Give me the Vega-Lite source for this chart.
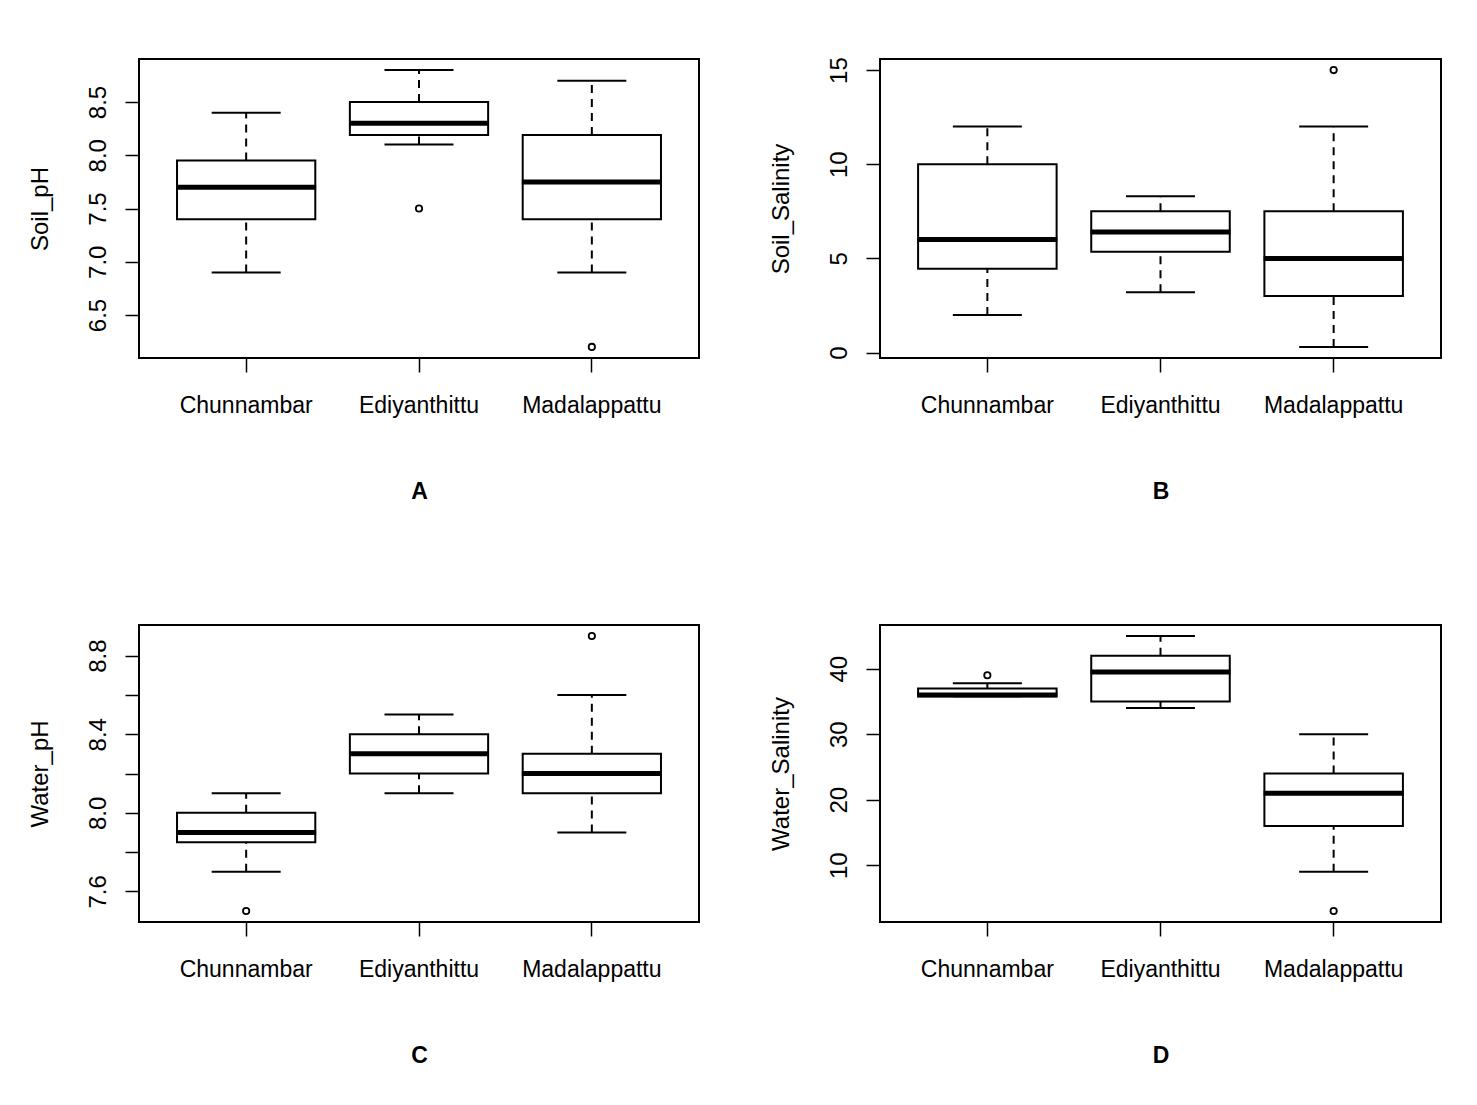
{
  "$schema": "https://vega.github.io/schema/vega-lite/v6.json",
  "background": "white",
  "padding": {"left": 26, "top": 55, "right": 5, "bottom": 5},
  "datasets": {
    "boxes": [
      {"panel": "A", "site": "Chunnambar", "lower": 6.9, "q1": 7.4, "median": 7.7, "q3": 7.95, "upper": 8.4},
      {"panel": "A", "site": "Ediyanthittu", "lower": 8.1, "q1": 8.19, "median": 8.3, "q3": 8.5, "upper": 8.8},
      {"panel": "A", "site": "Madalappattu", "lower": 6.9, "q1": 7.4, "median": 7.75, "q3": 8.19, "upper": 8.7},
      {"panel": "B", "site": "Chunnambar", "lower": 2.0, "q1": 4.45, "median": 6.0, "q3": 10.0, "upper": 12.0},
      {"panel": "B", "site": "Ediyanthittu", "lower": 3.2, "q1": 5.35, "median": 6.4, "q3": 7.5, "upper": 8.3},
      {"panel": "B", "site": "Madalappattu", "lower": 0.3, "q1": 3.0, "median": 5.0, "q3": 7.5, "upper": 12.0},
      {"panel": "C", "site": "Chunnambar", "lower": 7.7, "q1": 7.85, "median": 7.9, "q3": 8.0, "upper": 8.1},
      {"panel": "C", "site": "Ediyanthittu", "lower": 8.1, "q1": 8.2, "median": 8.3, "q3": 8.4, "upper": 8.5},
      {"panel": "C", "site": "Madalappattu", "lower": 7.9, "q1": 8.1, "median": 8.2, "q3": 8.3, "upper": 8.6},
      {"panel": "D", "site": "Chunnambar", "lower": 35.8, "q1": 35.8, "median": 36.0, "q3": 37.0, "upper": 37.8},
      {"panel": "D", "site": "Ediyanthittu", "lower": 34.0, "q1": 35.0, "median": 39.5, "q3": 42.0, "upper": 45.0},
      {"panel": "D", "site": "Madalappattu", "lower": 9.0, "q1": 16.0, "median": 21.0, "q3": 24.0, "upper": 30.0}
    ],
    "outliers": [
      {"panel": "A", "site": "Ediyanthittu", "value": 7.5},
      {"panel": "A", "site": "Madalappattu", "value": 6.2},
      {"panel": "B", "site": "Madalappattu", "value": 15.0},
      {"panel": "C", "site": "Chunnambar", "value": 7.5},
      {"panel": "C", "site": "Madalappattu", "value": 8.9},
      {"panel": "D", "site": "Chunnambar", "value": 39.0},
      {"panel": "D", "site": "Madalappattu", "value": 3.0}
    ]
  },
  "columns": 2,
  "bounds": "flush",
  "spacing": {"row": 267, "column": 181},
  "concat": [
    {
      "width": 560, "height": 299,
      "layer": [
        {
          "data": {"name": "boxes"},
          "transform": [{"filter": "datum.panel === 'A'"}],
          "encoding": {
            "x": {"field": "site", "type": "nominal", "title": "A", "scale": {"type": "band", "domain": ["Chunnambar", "Ediyanthittu", "Madalappattu"], "paddingInner": 0.2, "paddingOuter": 0.22}}
          },
          "layer": [
            {"mark": {"type": "rule", "color": "black", "strokeWidth": 2, "strokeDash": [8, 6]},
             "encoding": {"y": {"field": "lower", "type": "quantitative", "title": "Soil_pH", "scale": {"domain": [6.096, 8.904], "nice": false, "zero": false}, "axis": {"values": [6.5, 7, 7.5, 8, 8.5], "format": ".1f"}}, "y2": {"field": "q1"}}},
            {"mark": {"type": "rule", "color": "black", "strokeWidth": 2, "strokeDash": [8, 6]},
             "encoding": {"y": {"field": "q3", "type": "quantitative", "title": "Soil_pH", "scale": {"domain": [6.096, 8.904], "nice": false, "zero": false}, "axis": {"values": [6.5, 7, 7.5, 8, 8.5], "format": ".1f"}}, "y2": {"field": "upper"}}},
            {"mark": {"type": "tick", "color": "black", "size": 69, "thickness": 2, "opacity": 1},
             "encoding": {"y": {"field": "lower", "type": "quantitative", "title": "Soil_pH", "scale": {"domain": [6.096, 8.904], "nice": false, "zero": false}, "axis": {"values": [6.5, 7, 7.5, 8, 8.5], "format": ".1f"}}}},
            {"mark": {"type": "tick", "color": "black", "size": 69, "thickness": 2, "opacity": 1},
             "encoding": {"y": {"field": "upper", "type": "quantitative", "title": "Soil_pH", "scale": {"domain": [6.096, 8.904], "nice": false, "zero": false}, "axis": {"values": [6.5, 7, 7.5, 8, 8.5], "format": ".1f"}}}},
            {"mark": {"type": "bar", "fill": "white", "stroke": "black", "strokeWidth": 2},
             "encoding": {"y": {"field": "q1", "type": "quantitative", "title": "Soil_pH", "scale": {"domain": [6.096, 8.904], "nice": false, "zero": false}, "axis": {"values": [6.5, 7, 7.5, 8, 8.5], "format": ".1f"}}, "y2": {"field": "q3"}}},
            {"mark": {"type": "tick", "color": "black", "size": 140, "thickness": 5, "opacity": 1},
             "encoding": {"y": {"field": "median", "type": "quantitative", "title": "Soil_pH", "scale": {"domain": [6.096, 8.904], "nice": false, "zero": false}, "axis": {"values": [6.5, 7, 7.5, 8, 8.5], "format": ".1f"}}}}
          ]
        },
        {
          "data": {"name": "outliers"},
          "transform": [{"filter": "datum.panel === 'A'"}],
          "mark": {"type": "point", "shape": "circle", "filled": false, "color": "black", "size": 40, "strokeWidth": 1.8, "opacity": 1},
          "encoding": {
            "x": {"field": "site", "type": "nominal", "title": "A", "scale": {"type": "band", "domain": ["Chunnambar", "Ediyanthittu", "Madalappattu"], "paddingInner": 0.2, "paddingOuter": 0.22}},
            "y": {"field": "value", "type": "quantitative", "title": "Soil_pH", "scale": {"domain": [6.096, 8.904], "nice": false, "zero": false}, "axis": {"values": [6.5, 7, 7.5, 8, 8.5], "format": ".1f"}}
          }
        }
      ]
    },
    {
      "width": 561, "height": 299,
      "layer": [
        {
          "data": {"name": "boxes"},
          "transform": [{"filter": "datum.panel === 'B'"}],
          "encoding": {
            "x": {"field": "site", "type": "nominal", "title": "B", "scale": {"type": "band", "domain": ["Chunnambar", "Ediyanthittu", "Madalappattu"], "paddingInner": 0.2, "paddingOuter": 0.22}}
          },
          "layer": [
            {"mark": {"type": "rule", "color": "black", "strokeWidth": 2, "strokeDash": [8, 6]},
             "encoding": {"y": {"field": "lower", "type": "quantitative", "title": "Soil_Salinity", "scale": {"domain": [-0.288, 15.588], "nice": false, "zero": false}, "axis": {"values": [0, 5, 10, 15], "format": "d"}}, "y2": {"field": "q1"}}},
            {"mark": {"type": "rule", "color": "black", "strokeWidth": 2, "strokeDash": [8, 6]},
             "encoding": {"y": {"field": "q3", "type": "quantitative", "title": "Soil_Salinity", "scale": {"domain": [-0.288, 15.588], "nice": false, "zero": false}, "axis": {"values": [0, 5, 10, 15], "format": "d"}}, "y2": {"field": "upper"}}},
            {"mark": {"type": "tick", "color": "black", "size": 69, "thickness": 2, "opacity": 1},
             "encoding": {"y": {"field": "lower", "type": "quantitative", "title": "Soil_Salinity", "scale": {"domain": [-0.288, 15.588], "nice": false, "zero": false}, "axis": {"values": [0, 5, 10, 15], "format": "d"}}}},
            {"mark": {"type": "tick", "color": "black", "size": 69, "thickness": 2, "opacity": 1},
             "encoding": {"y": {"field": "upper", "type": "quantitative", "title": "Soil_Salinity", "scale": {"domain": [-0.288, 15.588], "nice": false, "zero": false}, "axis": {"values": [0, 5, 10, 15], "format": "d"}}}},
            {"mark": {"type": "bar", "fill": "white", "stroke": "black", "strokeWidth": 2},
             "encoding": {"y": {"field": "q1", "type": "quantitative", "title": "Soil_Salinity", "scale": {"domain": [-0.288, 15.588], "nice": false, "zero": false}, "axis": {"values": [0, 5, 10, 15], "format": "d"}}, "y2": {"field": "q3"}}},
            {"mark": {"type": "tick", "color": "black", "size": 140, "thickness": 5, "opacity": 1},
             "encoding": {"y": {"field": "median", "type": "quantitative", "title": "Soil_Salinity", "scale": {"domain": [-0.288, 15.588], "nice": false, "zero": false}, "axis": {"values": [0, 5, 10, 15], "format": "d"}}}}
          ]
        },
        {
          "data": {"name": "outliers"},
          "transform": [{"filter": "datum.panel === 'B'"}],
          "mark": {"type": "point", "shape": "circle", "filled": false, "color": "black", "size": 40, "strokeWidth": 1.8, "opacity": 1},
          "encoding": {
            "x": {"field": "site", "type": "nominal", "title": "B", "scale": {"type": "band", "domain": ["Chunnambar", "Ediyanthittu", "Madalappattu"], "paddingInner": 0.2, "paddingOuter": 0.22}},
            "y": {"field": "value", "type": "quantitative", "title": "Soil_Salinity", "scale": {"domain": [-0.288, 15.588], "nice": false, "zero": false}, "axis": {"values": [0, 5, 10, 15], "format": "d"}}
          }
        }
      ]
    },
    {
      "width": 560, "height": 297,
      "layer": [
        {
          "data": {"name": "boxes"},
          "transform": [{"filter": "datum.panel === 'C'"}],
          "encoding": {
            "x": {"field": "site", "type": "nominal", "title": "C", "scale": {"type": "band", "domain": ["Chunnambar", "Ediyanthittu", "Madalappattu"], "paddingInner": 0.2, "paddingOuter": 0.22}}
          },
          "layer": [
            {"mark": {"type": "rule", "color": "black", "strokeWidth": 2, "strokeDash": [8, 6]},
             "encoding": {"y": {"field": "lower", "type": "quantitative", "title": "Water_pH", "scale": {"domain": [7.444, 8.956], "nice": false, "zero": false}, "axis": {"values": [7.6, 7.8, 8.0, 8.2, 8.4, 8.6, 8.8], "labelExpr": "round(datum.value * 10) % 4 == 0 ? format(datum.value, '.1f') : ''"}}, "y2": {"field": "q1"}}},
            {"mark": {"type": "rule", "color": "black", "strokeWidth": 2, "strokeDash": [8, 6]},
             "encoding": {"y": {"field": "q3", "type": "quantitative", "title": "Water_pH", "scale": {"domain": [7.444, 8.956], "nice": false, "zero": false}, "axis": {"values": [7.6, 7.8, 8.0, 8.2, 8.4, 8.6, 8.8], "labelExpr": "round(datum.value * 10) % 4 == 0 ? format(datum.value, '.1f') : ''"}}, "y2": {"field": "upper"}}},
            {"mark": {"type": "tick", "color": "black", "size": 69, "thickness": 2, "opacity": 1},
             "encoding": {"y": {"field": "lower", "type": "quantitative", "title": "Water_pH", "scale": {"domain": [7.444, 8.956], "nice": false, "zero": false}, "axis": {"values": [7.6, 7.8, 8.0, 8.2, 8.4, 8.6, 8.8], "labelExpr": "round(datum.value * 10) % 4 == 0 ? format(datum.value, '.1f') : ''"}}}},
            {"mark": {"type": "tick", "color": "black", "size": 69, "thickness": 2, "opacity": 1},
             "encoding": {"y": {"field": "upper", "type": "quantitative", "title": "Water_pH", "scale": {"domain": [7.444, 8.956], "nice": false, "zero": false}, "axis": {"values": [7.6, 7.8, 8.0, 8.2, 8.4, 8.6, 8.8], "labelExpr": "round(datum.value * 10) % 4 == 0 ? format(datum.value, '.1f') : ''"}}}},
            {"mark": {"type": "bar", "fill": "white", "stroke": "black", "strokeWidth": 2},
             "encoding": {"y": {"field": "q1", "type": "quantitative", "title": "Water_pH", "scale": {"domain": [7.444, 8.956], "nice": false, "zero": false}, "axis": {"values": [7.6, 7.8, 8.0, 8.2, 8.4, 8.6, 8.8], "labelExpr": "round(datum.value * 10) % 4 == 0 ? format(datum.value, '.1f') : ''"}}, "y2": {"field": "q3"}}},
            {"mark": {"type": "tick", "color": "black", "size": 140, "thickness": 5, "opacity": 1},
             "encoding": {"y": {"field": "median", "type": "quantitative", "title": "Water_pH", "scale": {"domain": [7.444, 8.956], "nice": false, "zero": false}, "axis": {"values": [7.6, 7.8, 8.0, 8.2, 8.4, 8.6, 8.8], "labelExpr": "round(datum.value * 10) % 4 == 0 ? format(datum.value, '.1f') : ''"}}}}
          ]
        },
        {
          "data": {"name": "outliers"},
          "transform": [{"filter": "datum.panel === 'C'"}],
          "mark": {"type": "point", "shape": "circle", "filled": false, "color": "black", "size": 40, "strokeWidth": 1.8, "opacity": 1},
          "encoding": {
            "x": {"field": "site", "type": "nominal", "title": "C", "scale": {"type": "band", "domain": ["Chunnambar", "Ediyanthittu", "Madalappattu"], "paddingInner": 0.2, "paddingOuter": 0.22}},
            "y": {"field": "value", "type": "quantitative", "title": "Water_pH", "scale": {"domain": [7.444, 8.956], "nice": false, "zero": false}, "axis": {"values": [7.6, 7.8, 8.0, 8.2, 8.4, 8.6, 8.8], "labelExpr": "round(datum.value * 10) % 4 == 0 ? format(datum.value, '.1f') : ''"}}
          }
        }
      ]
    },
    {
      "width": 561, "height": 297,
      "layer": [
        {
          "data": {"name": "boxes"},
          "transform": [{"filter": "datum.panel === 'D'"}],
          "encoding": {
            "x": {"field": "site", "type": "nominal", "title": "D", "scale": {"type": "band", "domain": ["Chunnambar", "Ediyanthittu", "Madalappattu"], "paddingInner": 0.2, "paddingOuter": 0.22}}
          },
          "layer": [
            {"mark": {"type": "rule", "color": "black", "strokeWidth": 2, "strokeDash": [8, 6]},
             "encoding": {"y": {"field": "lower", "type": "quantitative", "title": "Water_Salinity", "scale": {"domain": [1.32, 46.68], "nice": false, "zero": false}, "axis": {"values": [10, 20, 30, 40], "format": "d"}}, "y2": {"field": "q1"}}},
            {"mark": {"type": "rule", "color": "black", "strokeWidth": 2, "strokeDash": [8, 6]},
             "encoding": {"y": {"field": "q3", "type": "quantitative", "title": "Water_Salinity", "scale": {"domain": [1.32, 46.68], "nice": false, "zero": false}, "axis": {"values": [10, 20, 30, 40], "format": "d"}}, "y2": {"field": "upper"}}},
            {"mark": {"type": "tick", "color": "black", "size": 69, "thickness": 2, "opacity": 1},
             "encoding": {"y": {"field": "lower", "type": "quantitative", "title": "Water_Salinity", "scale": {"domain": [1.32, 46.68], "nice": false, "zero": false}, "axis": {"values": [10, 20, 30, 40], "format": "d"}}}},
            {"mark": {"type": "tick", "color": "black", "size": 69, "thickness": 2, "opacity": 1},
             "encoding": {"y": {"field": "upper", "type": "quantitative", "title": "Water_Salinity", "scale": {"domain": [1.32, 46.68], "nice": false, "zero": false}, "axis": {"values": [10, 20, 30, 40], "format": "d"}}}},
            {"mark": {"type": "bar", "fill": "white", "stroke": "black", "strokeWidth": 2},
             "encoding": {"y": {"field": "q1", "type": "quantitative", "title": "Water_Salinity", "scale": {"domain": [1.32, 46.68], "nice": false, "zero": false}, "axis": {"values": [10, 20, 30, 40], "format": "d"}}, "y2": {"field": "q3"}}},
            {"mark": {"type": "tick", "color": "black", "size": 140, "thickness": 5, "opacity": 1},
             "encoding": {"y": {"field": "median", "type": "quantitative", "title": "Water_Salinity", "scale": {"domain": [1.32, 46.68], "nice": false, "zero": false}, "axis": {"values": [10, 20, 30, 40], "format": "d"}}}}
          ]
        },
        {
          "data": {"name": "outliers"},
          "transform": [{"filter": "datum.panel === 'D'"}],
          "mark": {"type": "point", "shape": "circle", "filled": false, "color": "black", "size": 40, "strokeWidth": 1.8, "opacity": 1},
          "encoding": {
            "x": {"field": "site", "type": "nominal", "title": "D", "scale": {"type": "band", "domain": ["Chunnambar", "Ediyanthittu", "Madalappattu"], "paddingInner": 0.2, "paddingOuter": 0.22}},
            "y": {"field": "value", "type": "quantitative", "title": "Water_Salinity", "scale": {"domain": [1.32, 46.68], "nice": false, "zero": false}, "axis": {"values": [10, 20, 30, 40], "format": "d"}}
          }
        }
      ]
    }
  ],
  "config": {
    "font": "Liberation Sans",
    "view": {"stroke": "black", "strokeWidth": 2},
    "axis": {"domain": false, "grid": false, "ticks": true, "tickColor": "black", "tickWidth": 1.5, "tickSize": 14, "labelColor": "black", "titleColor": "black", "labelFont": "Liberation Sans", "titleFont": "Liberation Sans", "labelFlush": false, "labelOverlap": false},
    "axisX": {"labelAngle": 0, "labelFontSize": 23, "labelPadding": 22, "titleFontSize": 23, "titleFontWeight": "bold", "titlePadding": 63, "bandPosition": 0.5},
    "axisY": {"labelAngle": 270, "labelFontSize": 24, "labelPadding": 15, "titleFontSize": 24, "titleFontWeight": "normal", "titlePadding": 34}
  }
}
